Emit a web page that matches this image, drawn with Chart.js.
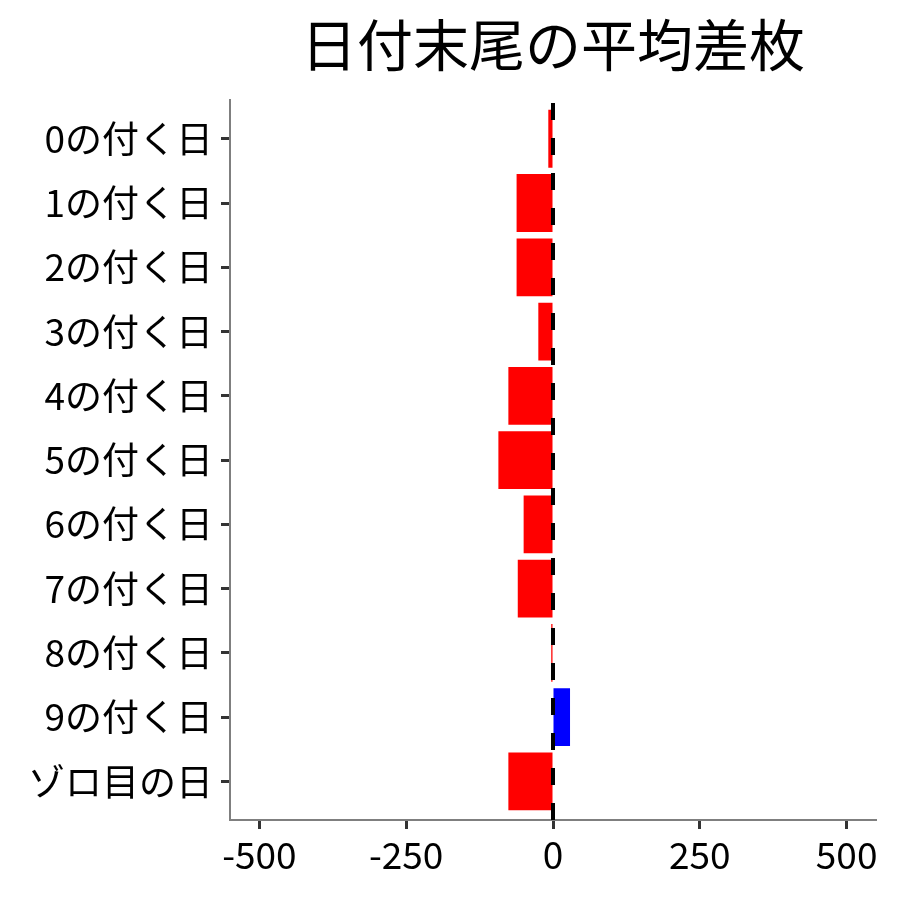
<!DOCTYPE html>
<html>
<head>
<meta charset="utf-8">
<script src="https://cdn.jsdelivr.net/npm/chart.js@4.4.1/dist/chart.umd.min.js"></script>
<style>
  html, body { margin: 0; padding: 0; background: #fff; }
  #wrap { width: 900px; height: 900px; }
</style>
</head>
<body>
<div id="wrap"><canvas id="chart" width="900" height="900"></canvas></div>
<script>
// ── Data ─────────────────────────────────────────────────────────────────────
const categories = ['0の付く日', '1の付く日', '2の付く日', '3の付く日', '4の付く日',
  '5の付く日', '6の付く日', '7の付く日', '8の付く日', '9の付く日', 'ゾロ目の日'];
const avgDiff = [-8, -62, -62, -25, -76, -93, -50, -60, -3, 29, -76];
const xTicks = [-500, -250, 0, 250, 500];
const xRange = [-550, 550];

// ── Helpers ──────────────────────────────────────────────────────────────────
const FONT = "'Noto Sans CJK JP', 'Noto Sans', sans-serif";
const yMin = 0.4, yMax = categories.length + 0.6;

const barData = categories.map((c, i) => ({ y: i + 1, x: avgDiff[i] }));
const barColors = avgDiff.map(v => v < 0 ? '#ff0000' : '#0000ff');

// ── Chart ────────────────────────────────────────────────────────────────────
new Chart(document.getElementById('chart'), {
  type: 'bar',
  data: {
    datasets: [
      {
        type: 'line',
        data: [{ x: 0, y: yMax }, { x: 0, y: yMin }],
        borderColor: '#000',
        borderWidth: 4,
        borderDash: [17, 18],
        pointRadius: 0,
        order: 0,
      },
      {
        data: barData,
        backgroundColor: barColors,
        barPercentage: 0.9,
        categoryPercentage: 1,
        order: 1,
      }
    ]
  },
  options: {
    indexAxis: 'y',
    responsive: false,
    animation: false,
    devicePixelRatio: 1,
    layout: { padding: { left: 0, right: 24, top: 0, bottom: 0 } },
    plugins: {
      legend: { display: false },
      tooltip: { enabled: false },
      title: {
        display: true,
        text: '日付末尾の平均差枚',
        color: '#000',
        fullSize: false,
        font: { family: FONT, size: 56, weight: 'normal' },
        padding: { top: 11, bottom: 22 },
      }
    },
    scales: {
      x: {
        type: 'linear',
        min: xRange[0],
        max: xRange[1],
        afterBuildTicks: s => { s.ticks = xTicks.map(v => ({ value: v })); },
        afterFit: s => { s.height = 80; },
        grid: { drawOnChartArea: false, drawTicks: true, tickLength: 9, tickWidth: 3, tickColor: '#333' },
        border: { display: true, color: '#7f7f7f', width: 2 },
        ticks: { color: '#000', padding: 4, maxRotation: 0, font: { family: FONT, size: 37 } },
      },
      y: {
        type: 'linear',
        reverse: true,
        offset: false,
        min: yMin,
        max: yMax,
        afterBuildTicks: s => { s.ticks = categories.map((c, i) => ({ value: i + 1 })); },
        afterFit: s => { s.width = 230; },
        grid: { offset: false, drawOnChartArea: false, drawTicks: true, tickLength: 9, tickWidth: 3, tickColor: '#333' },
        border: { display: true, color: '#7f7f7f', width: 2 },
        ticks: {
          color: '#000',
          padding: 8,
          font: { family: FONT, size: 37 },
          callback: v => categories[v - 1],
        },
      }
    }
  }
});
</script>
</body>
</html>
